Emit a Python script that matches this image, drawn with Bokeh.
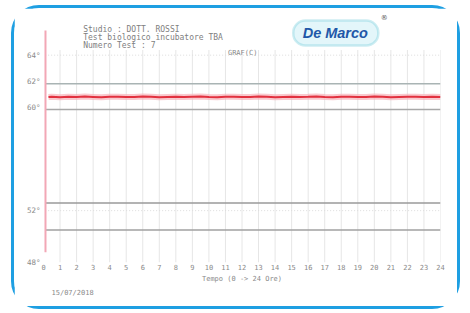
from bokeh.plotting import figure
from bokeh.models import Label, BoxAnnotation, FixedTicker, Range1d, Title
from bokeh.embed import file_html
from bokeh.resources import INLINE

# ---- data ----
hours = list(range(0, 25))
temp_time = [0.3] + [i * 0.5 for i in range(1, 49)]
temp_values = [60.78, 60.80, 60.76, 60.79, 60.77, 60.81, 60.78, 60.75, 60.79, 60.80,
               60.77, 60.78, 60.82, 60.79, 60.76, 60.78, 60.80, 60.77, 60.79, 60.81,
               60.78, 60.76, 60.79, 60.80, 60.77, 60.78, 60.81, 60.79, 60.76, 60.78,
               60.80, 60.77, 60.79, 60.82, 60.78, 60.76, 60.79, 60.80, 60.78, 60.77,
               60.81, 60.79, 60.76, 60.78, 60.80, 60.79, 60.77, 60.80, 60.78]
limit_lines = [61.8, 59.8, 52.6, 50.5]
limit_colors = ["#a9b4b4", "#a8a8a8", "#9a9a9a", "#a0a0a0"]
y_ticks = [64, 62, 60, 52, 48]
y_tick_labels = ["64°", "62°", "60°", "52°", "48°"]
dotted_levels = [64, 52]
header_lines = ["Studio : DOTT. ROSSI", "Test biologico incubatore TBA", "Numero Test : 7"]
date_text = "15/07/2018"
x_title = "Tempo (0 -> 24 Ore)"
graph_title = "GRAF(C)"

GRAY = "#8a8a8a"
MONO = "DejaVu Sans Mono"

p = figure(width=443, height=298, output_backend="svg", toolbar_location=None,
           x_range=Range1d(0, 24), y_range=Range1d(48, 67.14),
           min_border_left=29, min_border_right=23, min_border_top=6, min_border_bottom=50)
p.styles = {"border": "3px solid #1e9fe2", "border-radius": "28px",
            "box-sizing": "content-box", "margin": "5px 0 0 11px"}
p.outline_line_color = None
p.background_fill_color = "white"
p.border_fill_color = "white"
p.xgrid.visible = False
p.ygrid.visible = False

# vertical hour gridlines
p.segment(x0=hours[1:], y0=[48] * 24, x1=hours[1:], y1=[64.4] * 24,
          line_color="#e6e6e6", line_width=1)
# faint dotted horizontal levels
for lv in dotted_levels:
    p.segment(x0=[0.1], y0=[lv], x1=[24], y1=[lv], line_color="#dcdcdc",
              line_width=1, line_dash="1 2")

# limit lines
for lv, c in zip(limit_lines, limit_colors):
    p.segment(x0=[0.15], y0=[lv], x1=[24], y1=[lv], line_color=c, line_width=1.5)

# pen start line (pink vertical)
p.segment(x0=[0.12], y0=[48.8], x1=[0.12], y1=[65.9], line_color="#f2a7b6", line_width=2)

# temperature trace
p.line(temp_time, temp_values, line_color="#f7b3ba", line_width=6, line_alpha=0.7)
p.line(temp_time, temp_values, line_color="#e2313f", line_width=2)

# axes
p.xaxis.ticker = FixedTicker(ticks=hours)
p.xaxis.axis_line_color = None
p.xaxis.major_tick_line_color = None
p.xaxis.minor_tick_line_color = None
p.xaxis.major_tick_out = 0
p.xaxis.major_tick_in = 0
p.xaxis.minor_tick_out = 0
p.xaxis.major_label_text_font = MONO
p.xaxis.major_label_text_font_size = "7px"
p.xaxis.major_label_text_color = GRAY
p.xaxis.major_label_standoff = 1
p.xaxis.axis_label = x_title
p.xaxis.axis_label_text_font = MONO
p.xaxis.axis_label_text_font_size = "7px"
p.xaxis.axis_label_text_font_style = "normal"
p.xaxis.axis_label_text_color = GRAY
p.xaxis.axis_label_standoff = 2

p.yaxis.ticker = FixedTicker(ticks=y_ticks)
p.yaxis.major_label_overrides = {t: l for t, l in zip(y_ticks, y_tick_labels)}
p.yaxis.axis_line_color = None
p.yaxis.major_tick_line_color = None
p.yaxis.minor_tick_line_color = None
p.yaxis.major_tick_out = 0
p.yaxis.major_tick_in = 0
p.yaxis.minor_tick_out = 0
p.yaxis.major_label_text_font = MONO
p.yaxis.major_label_text_font_size = "7.5px"
p.yaxis.major_label_text_color = GRAY
p.yaxis.major_label_standoff = 3

# date under the axis
p.add_layout(Title(text=date_text, align="left", offset=8, text_font=MONO,
                   text_font_size="7px", text_font_style="normal", text_color=GRAY,
                   standoff=2), "below")

# header texts
for i, t in enumerate(header_lines):
    p.add_layout(Label(x=2.4, y=65.98 - i * 0.62, text=t, text_font=MONO,
                       text_font_size="8px", text_color="#808080", text_baseline="middle"))
p.add_layout(Label(x=11.15, y=64.2, text=graph_title, text_font=MONO,
                   text_font_size="7px", text_color=GRAY, text_baseline="middle"))

# logo
p.add_layout(BoxAnnotation(left=15.1, right=20.24, bottom=64.75, top=66.67,
                           fill_color="#e3f6fa", fill_alpha=1, line_color="#5ec4d4",
                           line_width=2.5, border_radius=12))
p.add_layout(Label(x=17.64, y=65.72, text="De Marco", text_font="Liberation Sans",
                   text_font_style="bold italic", text_font_size="14.5px",
                   text_color="#1f58a8", text_align="center", text_baseline="middle"))
p.add_layout(Label(x=20.6, y=66.9, text="®", text_font="DejaVu Sans",
                   text_font_size="7px", text_color="#555555", text_align="center",
                   text_baseline="middle"))

open("out.html", "w").write(file_html(p, INLINE))
